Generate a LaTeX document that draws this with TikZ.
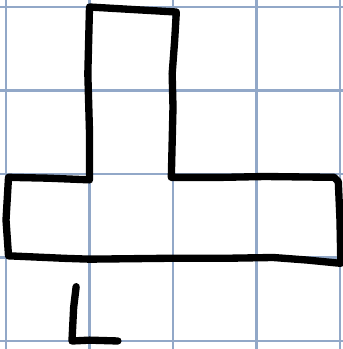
\documentclass[tikz,border=0pt]{standalone}
\definecolor{gridblue}{RGB}{146,168,200}
\tikzset{
	gridline/.style={draw=gridblue, line width=1.5pt},
	pen/.style={draw=black, line width=5pt, line cap=round, line join=round}
}
\begin{document}
\begin{tikzpicture}[x=2cm, y=2cm]
		\useasboundingbox (-0.072,-0.096) rectangle (4.036,4.084);
		\draw[gridline, step=1] (-0.2,-0.2) grid (4.2,4.2);

		% T shape, drawn by hand
		\draw[pen] (1.00,4.00) -- (2.04,3.94) -- (2.02,3.60) -- (1.99,3.20)
			-- (2.00,2.80) -- (1.98,1.96) -- (2.60,1.96) -- (3.10,1.97)
			-- (3.93,1.96) -- (3.98,1.91) -- (4.00,1.45) -- (4.01,0.93)
			-- (3.60,0.97) -- (3.20,1.00) -- (2.60,0.99) -- (1.90,0.99)
			-- (1.00,0.98) -- (0.70,0.99) -- (0.03,1.02) -- (0.00,1.45)
			-- (0.03,1.96) -- (0.50,1.95) -- (1.00,1.93) -- (1.00,2.50)
			-- (0.98,3.20) -- (0.99,3.60) -- cycle;

		% letter
		\draw[pen] (0.84,0.65) -- (0.81,0.40) -- (0.79,0.00) -- (1.00,0.01) -- (1.34,0.00);
	\end{tikzpicture}
\end{document}
